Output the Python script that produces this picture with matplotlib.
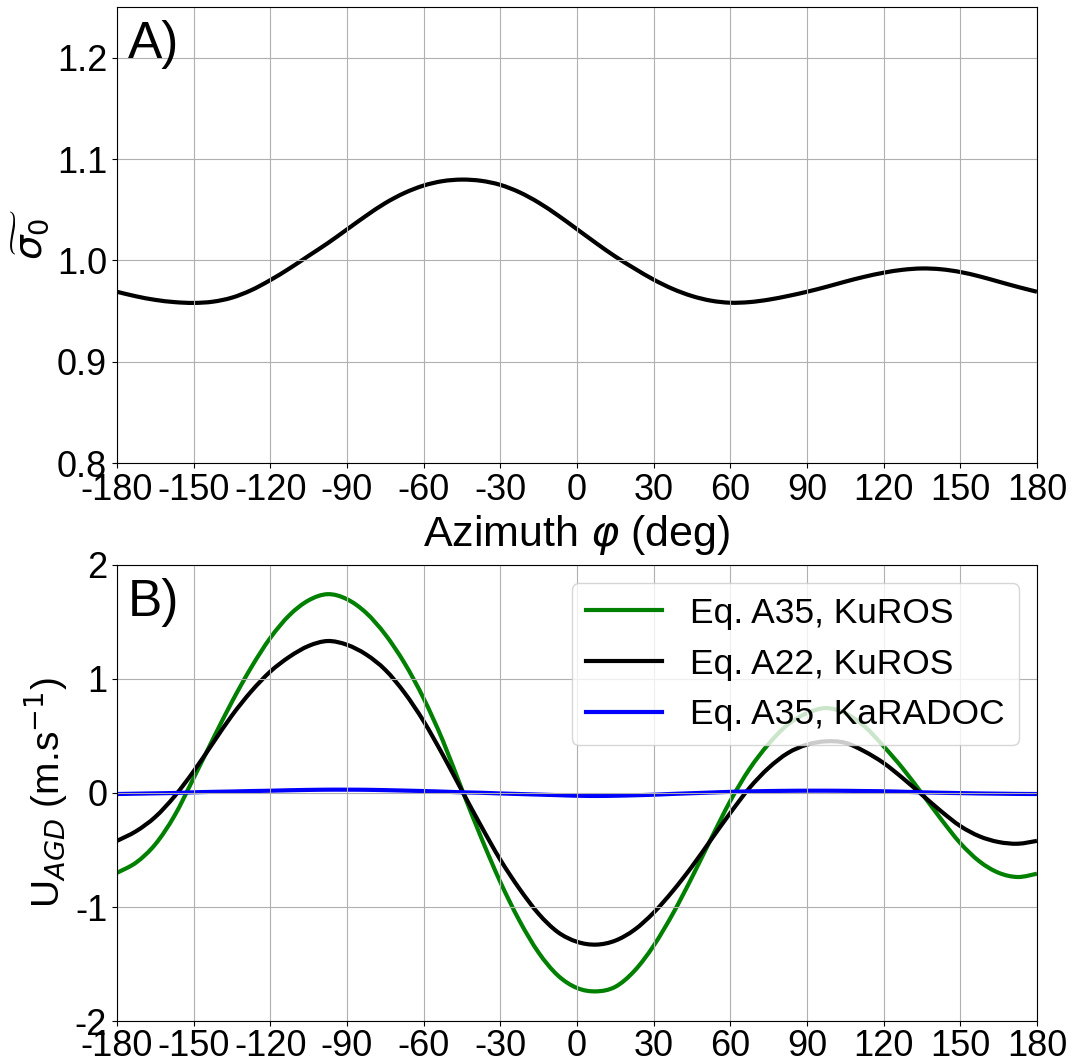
import numpy as np
import matplotlib
matplotlib.use("Agg")
import matplotlib.pyplot as plt
from matplotlib.path import Path
from matplotlib.patches import PathPatch

plt.rcParams['font.family'] = ['Liberation Sans', 'DejaVu Sans']
plt.rcParams['axes.unicode_minus'] = False

# azimuth sampling (deg), values every 7.5 deg
azimuth = np.arange(-180, 180.1, 7.5)

sigma0 = [0.969, 0.9645, 0.961, 0.9588, 0.958, 0.9592, 0.9632, 0.9705, 0.9805, 0.992,
          1.0045, 1.017, 1.0305, 1.044, 1.0565, 1.0665, 1.0738, 1.0782, 1.0797, 1.0785,
          1.0745, 1.0672, 1.057, 1.0445, 1.0308, 1.017, 1.0038, 0.992, 0.981, 0.9718,
          0.9648, 0.9602, 0.9582, 0.9588, 0.9612, 0.9648, 0.969, 0.9738, 0.979, 0.9838,
          0.9878, 0.9907, 0.992, 0.9912, 0.9885, 0.9842, 0.979, 0.9738, 0.969]

u_a35_kuros = [-0.70, -0.61, -0.45, -0.20, 0.13, 0.47, 0.80, 1.10, 1.36, 1.56,
               1.69, 1.744, 1.70, 1.58, 1.39, 1.14, 0.83, 0.46, 0.03, -0.39,
               -0.78, -1.12, -1.40, -1.60, -1.71, -1.74, -1.70, -1.56, -1.34, -1.06,
               -0.74, -0.40, -0.07, 0.21, 0.43, 0.60, 0.70, 0.745, 0.70, 0.585,
               0.41, 0.215, -0.005, -0.23, -0.44, -0.60, -0.70, -0.737, -0.708]

u_a22_kuros = [-0.42, -0.335, -0.21, -0.03, 0.19, 0.436, 0.68, 0.89, 1.065, 1.195,
               1.29, 1.333, 1.30, 1.215, 1.08, 0.88, 0.63, 0.335, 0.02, -0.29,
               -0.585, -0.84, -1.06, -1.22, -1.305, -1.33, -1.295, -1.20, -1.05, -0.86,
               -0.645, -0.409, -0.175, 0.044, 0.22, 0.35, 0.424, 0.453, 0.44, 0.365,
               0.263, 0.13, -0.015, -0.16, -0.29, -0.38, -0.43, -0.445, -0.42]

u_a35_karadoc = [-0.009, -0.006, -0.003, 0.0, 0.006, 0.01, 0.013, 0.017, 0.02, 0.024,
                 0.027, 0.029, 0.029, 0.028, 0.025, 0.021, 0.017, 0.012, 0.006, 0.002,
                 -0.004, -0.009, -0.014, -0.019, -0.024, -0.026, -0.024, -0.02, -0.015, -0.008,
                 -0.002, 0.004, 0.01, 0.014, 0.017, 0.019, 0.02, 0.02, 0.019, 0.017,
                 0.015, 0.011, 0.006, 0.002, -0.001, -0.004, -0.006, -0.008, -0.009]

xticks = np.arange(-180, 181, 30)


def smooth_curve(ax, x, y, color, lw=3):
    # draw the read points as a smooth (cubic bezier) line in data coordinates
    pts = np.column_stack([x, y])
    ext = np.vstack([pts[0], pts, pts[-1]])
    verts = [pts[0]]
    codes = [Path.MOVETO]
    for i in range(len(pts) - 1):
        p0, p1, p2, p3 = ext[i], ext[i + 1], ext[i + 2], ext[i + 3]
        verts += [p1 + (p2 - p0) / 6, p2 - (p3 - p1) / 6, p2]
        codes += [Path.CURVE4] * 3
    patch = PathPatch(Path(verts, codes), facecolor='none', edgecolor=color,
                      lw=lw, capstyle='butt', joinstyle='round')
    ax.add_patch(patch)


fig = plt.figure(figsize=(10.73, 10.62), dpi=100)
ax1 = fig.add_axes([0.109, 0.564, 0.8574, 0.4294])
ax2 = fig.add_axes([0.109, 0.0386, 0.8574, 0.4294])

# A) normalised sigma0
smooth_curve(ax1, azimuth, sigma0, 'k')
ax1.set_xlim(-180, 180)
ax1.set_ylim(0.8, 1.25)
ax1.set_xticks(xticks)
ax1.set_yticks([0.8, 0.9, 1.0, 1.1, 1.2])
ax1.tick_params(labelsize=26)
ax1.grid(True)
ax1.set_xlabel(r'Azimuth $\varphi$ (deg)', fontsize=31)
ax1.set_ylabel(r'$\widetilde{\sigma_0}$', fontsize=28)
ax1.text(0.012, 0.972, 'A)', transform=ax1.transAxes, fontsize=37, va='top', ha='left')

# B) U_AGD
colors = ['green', 'k', 'blue']
labels = ['Eq. A35, KuROS', 'Eq. A22, KuROS', 'Eq. A35, KaRADOC']
for yv, c, lab in zip([u_a35_kuros, u_a22_kuros, u_a35_karadoc], colors, labels):
    smooth_curve(ax2, azimuth, yv, c)
    ax2.plot([], [], color=c, lw=3, label=lab)
ax2.set_xlim(-180, 180)
ax2.set_ylim(-2, 2)
ax2.set_xticks(xticks)
ax2.set_yticks([-2, -1, 0, 1, 2])
ax2.tick_params(labelsize=26)
ax2.tick_params(axis='x', pad=2)
ax2.grid(True)
ax2.set_ylabel(r'U$_{AGD}$ (m.s$^{-1}$)', fontsize=28)
ax2.text(0.012, 0.972, 'B)', transform=ax2.transAxes, fontsize=37, va='top', ha='left')
ax2.legend(loc='upper right', fontsize=25.5, handlelength=2.15)

fig.savefig('out.png', dpi=100)
